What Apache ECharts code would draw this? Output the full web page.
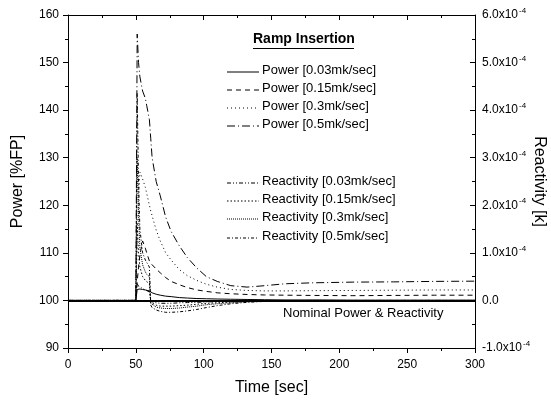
<!DOCTYPE html>
<html>
<head>
<meta charset="utf-8">
<script src="https://cdn.jsdelivr.net/npm/echarts@6/dist/echarts.min.js"></script>
<style>
  html, body { margin: 0; padding: 0; background: #fff; }
  #chart { width: 551px; height: 407px; }
</style>
</head>
<body>
<div id="chart"></div>
<script>
// time grid [sec]
var time = [0, 50, 51, 52, 53, 55, 57, 58, 60, 61, 62, 65, 68, 72, 76, 82, 88, 95, 102, 110, 120, 132, 145, 160, 180, 210, 240, 270, 300];

// power [%FP]
var pow003 = [100, 100, 102.3, 102.4, 102.4, 102.3, 102.2, 102.1, 102.0, 101.8, 101.6, 101.3, 101.1, 100.9, 100.8, 100.6, 100.5, 100.4, 100.35, 100.3, 100.25, 100.2, 100.15, 100.1, 100.1, 100.05, 100.05, 100.05, 100.05];
var pow015 = [100, 100, 104, 107, 109.5, 112.5, 111, 110, 108.3, 107.8, 107.4, 106.6, 105.8, 104.8, 104, 103.3, 102.7, 102.2, 101.9, 101.6, 101.4, 101.25, 101.15, 101.1, 101.05, 101.0, 101.05, 101.1, 101.1];
var pow03 = [100, 100, 113, 122, 127, 125.5, 123.8, 122.5, 120, 118.8, 117.8, 114.8, 112.5, 110, 108.5, 106.5, 105.2, 104.2, 103.4, 102.8, 102.3, 102.1, 102.0, 102.0, 102.05, 102.1, 102.15, 102.2, 102.2];
var pow05 = [100, 100, 156, 150, 147, 144, 142.5, 141, 138, 134, 130, 125, 122, 117.5, 114.5, 111.5, 109, 106.8, 105, 104, 103.1, 102.8, 103.1, 103.5, 103.7, 103.85, 103.9, 104, 104.05];

// reactivity [1e-4 k]
var reac003 = [0, 0, 0.35, 0.3, 0.28, 0.25, 0.22, 0.2, 0.18, -0.02, -0.04, -0.05, -0.06, -0.06, -0.06, -0.05, -0.045, -0.04, -0.03, -0.025, -0.02, -0.015, -0.01, -0.005, 0, 0, 0, 0, 0];
var reac015 = [0, 0, 1.6, 1.0, 0.7, 0.5, 0.42, 0.4, 0.35, -0.04, -0.07, -0.1, -0.12, -0.12, -0.12, -0.11, -0.1, -0.08, -0.06, -0.05, -0.035, -0.02, -0.01, 0, 0, 0, 0, 0, 0];
var reac03 = [0, 0, 3.0, 1.8, 1.1, 0.75, 0.6, 0.55, 0.5, -0.06, -0.1, -0.14, -0.16, -0.17, -0.17, -0.16, -0.14, -0.12, -0.09, -0.07, -0.05, -0.03, -0.02, -0.01, 0, 0, 0, 0, 0];
var reac05 = [0, 0, 4.35, 2.5, 1.5, 1.0, 0.85, 0.8, 0.7, -0.1, -0.15, -0.2, -0.23, -0.25, -0.25, -0.24, -0.22, -0.19, -0.15, -0.11, -0.07, -0.04, -0.02, -0.01, 0, 0, 0, 0, 0];

var powNames = ["Power [0.03mk/sec]", "Power [0.15mk/sec]", "Power [0.3mk/sec]", "Power [0.5mk/sec]"];
var reacNames = ["Reactivity [0.03mk/sec]", "Reactivity [0.15mk/sec]", "Reactivity [0.3mk/sec]", "Reactivity [0.5mk/sec]"];

var powDash = ["solid", [5, 4], [1, 3], [8, 3, 1, 3]];
var reacDash = [[4, 2, 1, 2, 1, 2], [1.5, 2], [1, 1], [3, 2, 1, 2]];

var FONT = "Liberation Sans";

function pairs(vals) {
  return time.map(function (t, i) { return [t, vals[i]]; });
}

var chart = echarts.init(document.getElementById("chart"));

var series = [];
[pow003, pow015, pow03, pow05].forEach(function (v, i) {
  series.push({
    name: powNames[i],
    type: "line",
    xAxisIndex: 0,
    yAxisIndex: 0,
    data: pairs(v),
    symbol: "none",
    lineStyle: { color: "#000", width: 1, type: powDash[i] },
    z: 3
  });
});
[reac003, reac015, reac03, reac05].forEach(function (v, i) {
  series.push({
    name: reacNames[i],
    type: "line",
    xAxisIndex: 0,
    yAxisIndex: 1,
    data: pairs(v),
    symbol: "none",
    lineStyle: { color: "#000", width: 1, type: reacDash[i] },
    z: 2
  });
});
// nominal line at 100 %FP
series[0].markLine = {
  silent: true,
  symbol: "none",
  label: { show: false },
  lineStyle: { color: "#000", width: 2, type: "solid" },
  data: [{ yAxis: 100 }]
};

// legend drawn by hand
var graphics = [
  {
    type: "text", left: 253, top: 32,
    style: { text: "Ramp Insertion", font: "bold 14px " + FONT, fill: "#000" }
  },
  {
    type: "line", shape: { x1: 253, y1: 48.5, x2: 354, y2: 48.5 },
    style: { stroke: "#000", lineWidth: 1 }
  }
];
var rowsY = [72, 90, 108, 126, 183, 201, 219, 238];
var allNames = powNames.concat(reacNames);
var allDash = powDash.concat(reacDash);
rowsY.forEach(function (y, i) {
  var d = allDash[i];
  graphics.push({
    type: "line", shape: { x1: 227, y1: y, x2: 259, y2: y },
    style: { stroke: "#000", lineWidth: 1, lineDash: d === "solid" ? null : d }
  });
  graphics.push({
    type: "text", left: 262, top: y - 8,
    style: { text: allNames[i], font: "13px " + FONT, fill: "#000" }
  });
});
graphics.push({
  type: "text", left: 283, top: 307,
  style: { text: "Nominal Power & Reactivity", font: "13px " + FONT, fill: "#000" }
});

var option = {
  animation: false,
  backgroundColor: "#fff",
  textStyle: { fontFamily: FONT, color: "#000" },
  grid: { left: 68, right: 76, top: 15, bottom: 59, outerBoundsMode: "none", containLabel: false },
  xAxis: [
    {
      type: "value",
      position: "bottom",
      min: 0, max: 300, interval: 50,
      name: "Time [sec]",
      nameLocation: "middle",
      nameGap: 32,
      nameMoveOverlap: false,
      nameTextStyle: { fontSize: 16, fontFamily: FONT, color: "#000" },
      axisLine: { onZero: false, lineStyle: { color: "#000", width: 1 } },
      axisTick: { inside: false, length: 5, lineStyle: { color: "#000" } },
      minorTick: { show: true, splitNumber: 2, length: 3, lineStyle: { color: "#000" } },
      axisLabel: { margin: 11, fontSize: 12, fontFamily: FONT, color: "#000" },
      splitLine: { show: false }
    },
    {
      type: "value",
      position: "top",
      min: 0, max: 300, interval: 50,
      axisLine: { onZero: false, lineStyle: { color: "#000", width: 1 } },
      axisTick: { inside: true, length: 5, lineStyle: { color: "#000" } },
      minorTick: { show: true, splitNumber: 2, length: 3, lineStyle: { color: "#000" } },
      axisLabel: { show: false },
      splitLine: { show: false }
    }
  ],
  yAxis: [
    {
      type: "value",
      position: "left",
      min: 90, max: 160, interval: 10,
      name: "Power [%FP]",
      nameLocation: "middle",
      nameGap: 42,
      nameMoveOverlap: false,
      nameTextStyle: { fontSize: 16, fontFamily: FONT, color: "#000" },
      axisLine: { show: true, onZero: false, lineStyle: { color: "#000", width: 1 } },
      axisTick: { show: true, inside: false, length: 5, lineStyle: { color: "#000" } },
      minorTick: { show: true, splitNumber: 2, length: 3, lineStyle: { color: "#000" } },
      axisLabel: { margin: 9, fontSize: 12, fontFamily: FONT, color: "#000" },
      splitLine: { show: false }
    },
    {
      type: "value",
      position: "right",
      min: -1, max: 6, interval: 1,
      name: "Reactivity [k]",
      nameLocation: "middle",
      nameRotate: -90,
      nameGap: 56,
      nameMoveOverlap: false,
      nameTextStyle: { fontSize: 16, fontFamily: FONT, color: "#000" },
      axisLine: { show: true, onZero: false, lineStyle: { color: "#000", width: 1 } },
      axisTick: { show: true, inside: true, length: 5, lineStyle: { color: "#000" } },
      minorTick: { show: true, splitNumber: 2, length: 3, lineStyle: { color: "#000" } },
      axisLabel: {
        margin: 7,
        fontSize: 12,
        fontFamily: FONT,
        color: "#000",
        formatter: function (v) {
          var r = Math.round(v);
          if (r === 0) return "{a|0.0}";
          return "{a|" + r.toFixed(1) + "x10}{sup|-4}";
        },
        rich: {
          a: { fontSize: 12, fontFamily: FONT, color: "#000", lineHeight: 16 },
          sup: { fontSize: 8, fontFamily: FONT, color: "#000", verticalAlign: "top", lineHeight: 16, padding: [0, 0, 6, 1] }
        }
      },
      splitLine: { show: false }
    }
  ],
  graphic: graphics,
  series: series
};

chart.setOption(option);
</script>
</body>
</html>
